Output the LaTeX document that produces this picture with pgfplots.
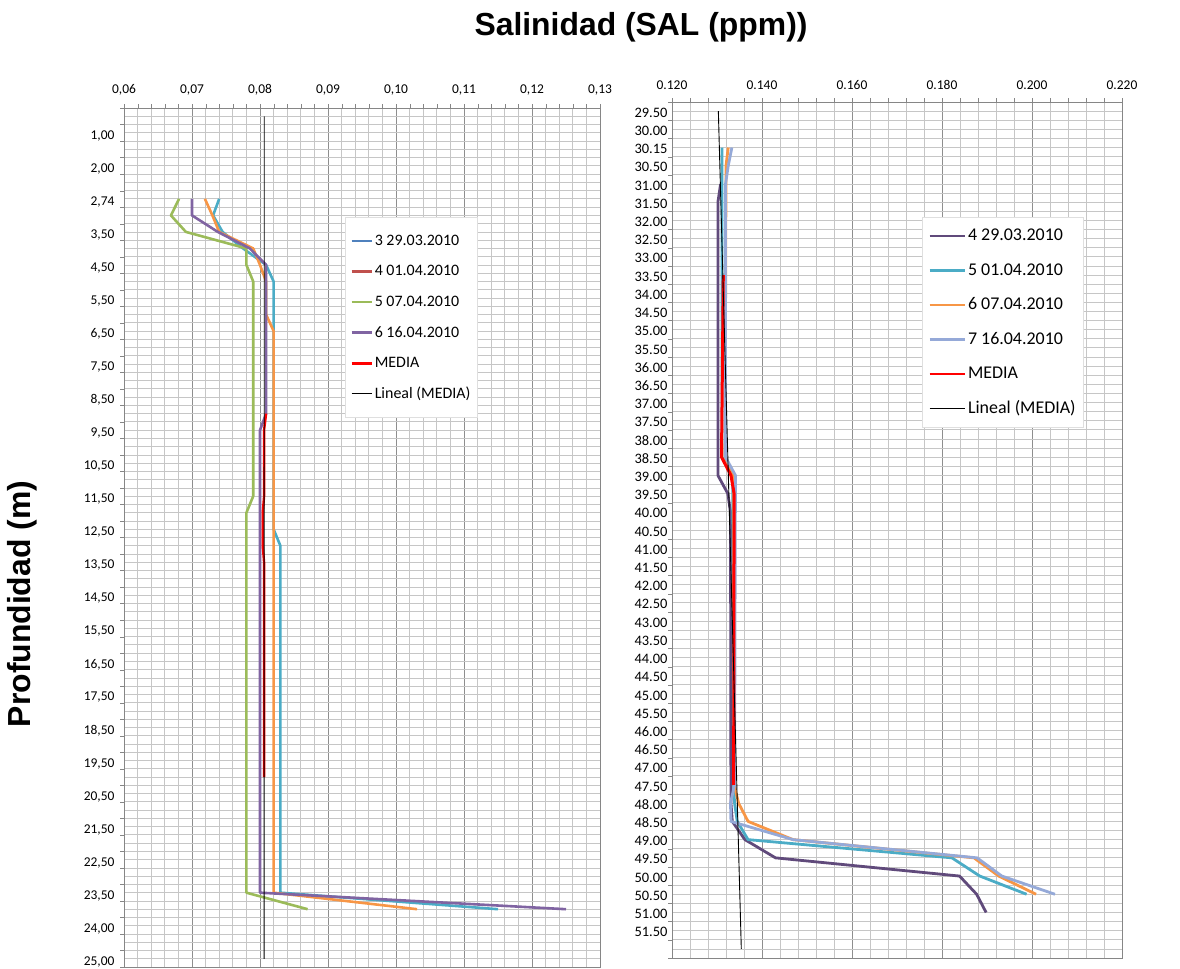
\documentclass[border=0pt]{standalone}
\usepackage{fontspec}
\setmainfont{Liberation Sans}
\newfontfamily\calibri{Carlito}
\usepackage{pgfplots}
\pgfplotsset{compat=1.18}

\definecolor{cTeal}{HTML}{4BACC6}
\definecolor{cOrange}{HTML}{F79646}
\definecolor{cGreen}{HTML}{9BBB59}
\definecolor{cPurple}{HTML}{8064A2}
\definecolor{cBlue}{HTML}{4F81BD}
\definecolor{cBrick}{HTML}{C0504D}
\definecolor{cDPurple}{HTML}{604A7B}
\definecolor{cLav}{HTML}{95A9D8}
\definecolor{cRed}{HTML}{FF0000}
\definecolor{cFrame}{HTML}{868686}
\definecolor{cMinor}{HTML}{C6C6C6}
\definecolor{cMajor}{HTML}{8E8E8E}

\pgfplotsset{
  common/.style={
    scale only axis, y dir=reverse, clip=true,
    axis line style={draw=cFrame, line width=0.8bp},
    xtick pos=right, xticklabel pos=right, ytick pos=left,
    major tick length=0pt, minor tick length=0pt,
    xmajorgrids, xminorgrids, yminorgrids,
    major grid style={draw=cMajor, line width=0.8bp},
    minor grid style={draw=cMinor, line width=0.8bp},
    tick label style={font=\fontsize{13.5}{16}\calibri},
    xticklabel style={yshift=9bp},
    extra y tick labels={}, extra x tick labels={},
    extra y tick style={grid=none, major tick length=4bp, tick align=outside, tick style={draw=cFrame}},
    extra x tick style={grid=none, major tick length=4bp, tick align=outside, tick style={draw=cFrame}},
    legend cell align=left,
    legend image code/.code={\draw[#1] (0bp,0bp) -- (\pgfkeysvalueof{/pgfplots/limgw},0bp);},
    every axis plot/.append style={line join=round},
  },
  limgw/.initial=20bp,
}

\begin{document}
\begin{tikzpicture}
\path[use as bounding box] (0bp,0bp) rectangle (1180bp,-969bp);

\node at (641bp,-27bp) {\bfseries\fontsize{32}{38}\selectfont Salinidad (SAL (ppm))};
\node[rotate=90] at (22bp,-604bp) {\bfseries\fontsize{32}{38}\selectfont Profundidad (m)};

% ---------------- LEFT CHART ----------------
\begin{axis}[common,
  at={(124bp,-108bp)}, anchor=north west,
  width=476bp, height=859bp,
  xmin=0.06, xmax=0.13, ymin=-0.5, ymax=51.5,
  xtick={0.06,0.07,0.08,0.09,0.10,0.11,0.12,0.13},
  xticklabels={{0,06},{0,07},{0,08},{0,09},{0,10},{0,11},{0,12},{0,13}},
  minor x tick num=4,
  extra x ticks={0.06,0.062,...,0.1301},
  ytick={1,3,...,51},
  yticklabels={{1,00},{2,00},{2,74},{3,50},{4,50},{5,50},{6,50},{7,50},{8,50},{9,50},{10,50},{11,50},{12,50},{13,50},{14,50},{15,50},{16,50},{17,50},{18,50},{19,50},{20,50},{21,50},{22,50},{23,50},{24,00},{25,00}},
  yticklabel style={xshift=-6bp, yshift=-3bp},
  minor ytick={-0.5,0,...,51.5},
  extra y ticks={-0.5,0.5,...,51.5},
  limgw=20bp,
  legend style={at={(0.4643,0.8730)}, anchor=north west, draw=gray!25, fill=white,
    font=\fontsize{16}{19}\calibri, row sep=13.6bp, inner xsep=5bp, inner ysep=15bp,
    nodes={inner sep=2bp, text height=11bp, text depth=2bp}},
]
\addlegendimage{color=cBlue, line width=2.6bp}
\addlegendentry{3 29.03.2010}
\addlegendimage{color=cBrick, line width=2.6bp}
\addlegendentry{4 01.04.2010}
\addlegendimage{color=cGreen, line width=2.6bp}
\addlegendentry{5 07.04.2010}
\addlegendimage{color=cPurple, line width=2.6bp}
\addlegendentry{6 16.04.2010}
\addlegendimage{color=cRed, line width=2.6bp}
\addlegendentry{MEDIA}
\addlegendimage{color=black, line width=0.9bp}
\addlegendentry{Lineal (MEDIA)}

% 3 29.03.2010
\addplot[forget plot, color=cTeal, line width=2.6bp] coordinates {
(0.0740,5) (0.0731,6) (0.0745,7) (0.0775,8) (0.0809,9) (0.0820,10) (0.0820,25) (0.0830,26) (0.0830,47) (0.1150,48)};
% 4 01.04.2010
\addplot[forget plot, color=cOrange, line width=2.6bp] coordinates {
(0.0719,5) (0.0730,6) (0.0740,7) (0.0790,8) (0.0800,9) (0.0809,10) (0.0809,12) (0.0820,13) (0.0820,47) (0.1031,48)};
% 5 07.04.2010
\addplot[forget plot, color=cGreen, line width=2.6bp] coordinates {
(0.0681,5) (0.0669,6) (0.0691,7) (0.0780,8) (0.0780,9) (0.0790,10) (0.0790,23) (0.0780,24) (0.0780,47) (0.0870,48)};
% 6 16.04.2010
\addplot[forget plot, color=cPurple, line width=2.6bp] coordinates {
(0.0700,5) (0.0700,6) (0.0738,7) (0.0785,8) (0.0809,9) (0.0809,18) (0.0800,19) (0.0800,47) (0.1250,48)};
% MEDIA
\addplot[forget plot, color=cRed, line width=2.4bp] coordinates {
(0.0809,18) (0.0806,19) (0.0806,23) (0.0804,24) (0.0804,26) (0.0806,27) (0.0806,40)};
% Lineal (MEDIA)
\addplot[forget plot, color=black, line width=0.9bp] coordinates {
(0.08063,0) (0.08060,51)};
\end{axis}

% ---------------- RIGHT CHART ----------------
\begin{axis}[common,
  at={(672bp,-102bp)}, anchor=north west,
  width=450bp, height=856bp,
  xmin=0.12, xmax=0.22, ymin=-0.5, ymax=46.5,
  xtick={0.12,0.14,0.16,0.18,0.20,0.22},
  xticklabels={0.120,0.140,0.160,0.180,0.200,0.220},
  minor x tick num=4,
  extra x ticks={0.12,0.124,...,0.2201},
  ytick={0,1,...,45},
  yticklabels={29.50,30.00,30.15,30.50,31.00,31.50,32.00,32.50,33.00,33.50,34.00,34.50,35.00,35.50,36.00,36.50,37.00,37.50,38.00,38.50,39.00,39.50,40.00,40.50,41.00,41.50,42.00,42.50,43.00,43.50,44.00,44.50,45.00,45.50,46.00,46.50,47.00,47.50,48.00,48.50,49.00,49.50,50.00,50.50,51.00,51.50},
  yticklabel style={xshift=-1bp, yshift=-1.5bp, font=\fontsize{14.5}{17}\calibri},
  minor ytick={-0.5,0,...,46.5},
  extra y ticks={-0.5,0.5,...,46.5},
  limgw=35bp,
  legend style={at={(0.5556,0.8657)}, anchor=north west, draw=gray!25, fill=white,
    font=\fontsize{18}{21}\calibri, row sep=15.0bp, inner xsep=6bp, inner ysep=9bp,
    nodes={inner sep=2bp, text height=12.5bp, text depth=3bp}},
]
\addlegendimage{color=cDPurple, line width=2.8bp}
\addlegendentry{4 29.03.2010}
\addlegendimage{color=cTeal, line width=2.8bp}
\addlegendentry{5 01.04.2010}
\addlegendimage{color=cOrange, line width=2.8bp}
\addlegendentry{6 07.04.2010}
\addlegendimage{color=cLav, line width=2.8bp}
\addlegendentry{7 16.04.2010}
\addlegendimage{color=cRed, line width=2.8bp}
\addlegendentry{MEDIA}
\addlegendimage{color=black, line width=0.9bp}
\addlegendentry{Lineal (MEDIA)}

% 4 29.03.2010
\addplot[forget plot, color=cDPurple, line width=2.8bp] coordinates {
(0.1308,4) (0.1302,5) (0.1302,20) (0.1324,21) (0.1330,22) (0.1331,38) (0.1334,39) (0.1362,40) (0.1430,41) (0.1839,42) (0.1877,43) (0.1898,44)};
% 5 01.04.2010
\addplot[forget plot, color=cTeal, line width=2.8bp] coordinates {
(0.1311,2) (0.1311,19) (0.1335,20) (0.1337,37) (0.1339,38) (0.1345,39) (0.1369,40) (0.1822,41) (0.1884,42) (0.1988,43)};
% 6 07.04.2010
\addplot[forget plot, color=cOrange, line width=2.8bp] coordinates {
(0.1325,2) (0.1320,3) (0.1318,19) (0.1337,20) (0.1338,37) (0.1348,38) (0.1369,39) (0.1469,40) (0.1871,41) (0.1926,42) (0.2009,43)};
% 7 16.04.2010
\addplot[forget plot, color=cLav, line width=2.8bp] coordinates {
(0.1333,2) (0.1325,3) (0.1319,4) (0.1319,19) (0.1341,20) (0.1339,37) (0.1330,38) (0.1331,39) (0.1469,40) (0.1878,41) (0.1933,42) (0.2051,43)};
% MEDIA
\addplot[forget plot, color=cRed, line width=3.0bp] coordinates {
(0.1314,9) (0.1310,19) (0.1331,20) (0.1338,21) (0.1337,37)};
% Lineal (MEDIA)
\addplot[forget plot, color=black, line width=0.9bp] coordinates {
(0.1303,0) (0.1354,46)};
\end{axis}
\end{tikzpicture}
\end{document}
